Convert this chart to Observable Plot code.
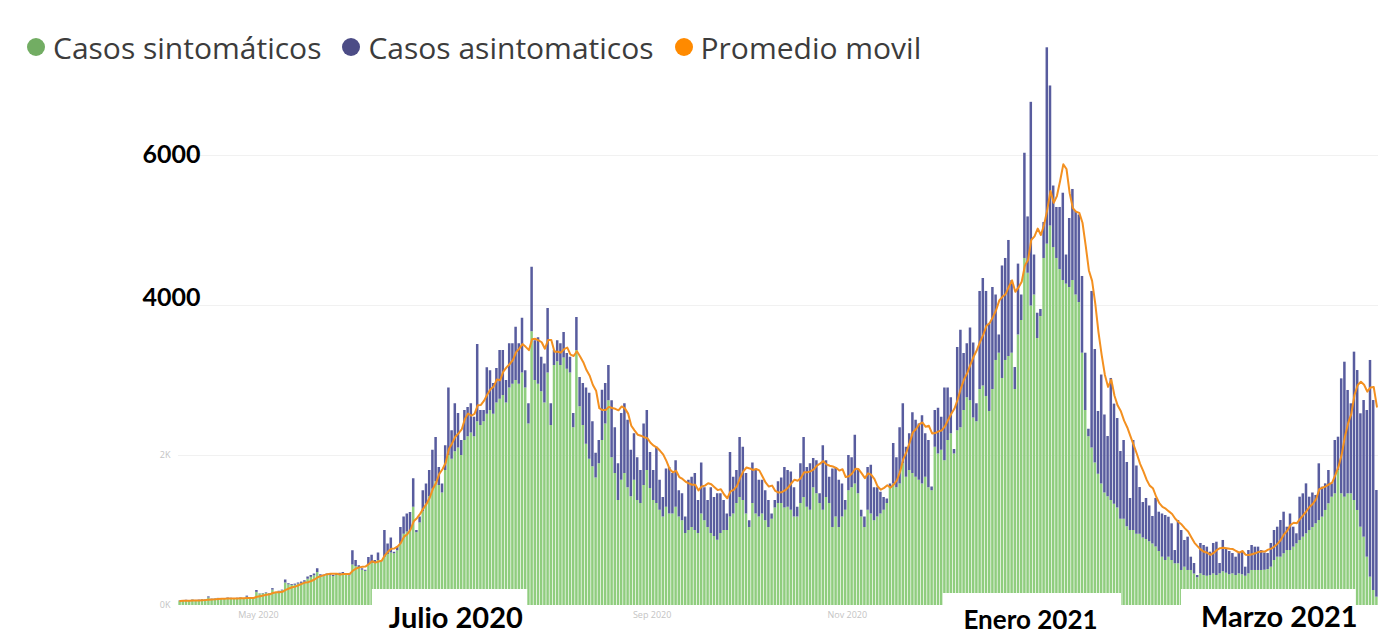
<!DOCTYPE html>
<html>
<head>
<meta charset="utf-8">
<script src="https://cdn.jsdelivr.net/npm/d3@7"></script>
<script src="https://cdn.jsdelivr.net/npm/@observablehq/plot@0.6"></script>
<style>
  html, body { margin: 0; padding: 0; background: #fff; }
  #wrap { position: relative; width: 1378px; height: 637px; overflow: hidden; }
  #legend { position: absolute; left: 27px; top: 27px; height: 40px; display: flex; align-items: center;
            font-family: "Open Sans", "Noto Sans", sans-serif; font-size: 30px; color: #3c3c3c; z-index: 2; white-space: nowrap; }
  #legend .item { display: flex; align-items: center; margin-right: 21px; }
  #legend .dot { width: 18px; height: 18px; border-radius: 50%; margin-right: 8px; display: inline-block; }
  #chart { position: absolute; left: 0; top: 0; }
</style>
</head>
<body>
<div id="wrap"><div id="chart"></div><div id="legend"></div></div>
<script>
// ---- Data ----
const startDay = "2020-04-06";          // first daily bar
// height of each daily bar (sintomáticos + asintomáticos)
const totalDiario = [
  60,65,70,62,75,68,72,80,76,
  115,
  85,90,95,88,92,100,96,92,97,102,92,
  125,95,102,
  200,155,160,168,160,
  225,172,190,205,
  340,290,280,285,
  300,312,330,
  380,400,420,490,
  410,405,420,415,400,420,
  430,440,420,410,
  730,600,530,490,470,
  640,670,600,700,600,
  1000,820,900,710,780,
  1040,1180,1220,1240,
  1690,1000,1180,1530,1620,
  1800,2070,2240,1840,1620,
  2130,2900,2330,2690,2560,
  2200,2600,2640,2690,2510,
  3480,2600,2600,3170,3130,
  2960,3160,3400,3400,3000,
  3490,3490,3710,3490,3830,
  3130,2690,4510,3530,3570,
  3310,3220,3960,2690,3400,
  3530,3490,3640,3360,3310,
  2560,3840,3040,2960,2900,
  2830,2450,2030,2200,2870,
  2960,3200,2730,2370,1890,
  2560,2690,2470,2070,2290,
  1970,1800,2420,2600,2040,
  1800,2110,1670,1440,1820,
  1840,1760,1930,1530,1490,
  1180,1670,1710,1760,1400,
  1900,1570,1400,1570,1440,
  1490,1490,1400,1220,2040,
  1710,1800,2240,2110,1760,
  1130,1900,1800,1670,1670,
  1530,1400,1220,1400,1650,
  1700,1840,1800,1780,1570,
  1310,1890,2240,1840,1890,
  1960,1930,1490,2130,1930,
  1710,1820,1840,1670,1620,
  1400,2000,1970,2270,1800,
  1270,1180,1840,1870,1570,
  1570,1510,1440,1420,1620,
  2160,1970,2370,2690,2110,
  2290,2570,2470,2420,2530,
  2290,2200,1580,2600,2630,
  2510,2900,2900,2770,2080,
  3440,3670,3360,3490,3700,3500,2690,
  4187,4360,4187,3752,4240,
  4140,3607,4527,4627,4867,
  4333,3173,4552,4140,6030,
  5181,6709,4673,3897,3947,
  5107,7436,6927,5593,5307,
  5307,5497,4673,5160,5547,
  5253,5207,4387,3364,2350,
  4187,3413,2587,3073,2540,
  2253,3027,2685,2493,2053,
  2200,1907,1427,2200,1860,
  1573,1373,1427,1327,1187,1427,1244,
  1220,1200,1177,1089,733,
  1133,1000,867,911,644,
  560,400,827,800,778,
  711,827,844,560,867,
  760,720,
  693,644,693,711,511,
  733,800,778,778,733,
  700,
  693,827,1000,1044,1133,
  1244,1044,1220,1044,956,
  1444,1489,1622,1444,
  1500,
  1467,1889,1578,1622,1800,
  1622,2200,2244,3022,3244,
  2867,2689,3378,3133,2556,
  2733,2600,3267,2733,1533
];
// Casos sintomáticos (green part of each bar)
const sintomaticos = [
  55,60,64,58,70,62,66,74,70,
  100,
  80,85,90,83,87,94,90,87,92,96,87,
  110,90,95,
  175,150,155,160,155,
  205,165,180,195,
  300,275,268,270,
  285,295,310,
  350,375,395,440,
  390,385,400,395,385,400,
  410,420,405,395,
  540,520,500,470,455,
  540,560,560,600,580,
  640,680,700,690,730,
  820,950,980,1000,
  1310,970,1100,1250,1350,
  1450,1550,1650,1600,1500,
  1800,2000,1950,2050,2100,
  2000,2200,2250,2300,2250,
  2450,2400,2450,2550,2600,
  2550,2700,2750,2800,2700,
  2900,2950,3000,2950,3100,
  2900,2420,3650,3000,2950,
  2850,2700,3100,2400,3200,
  3250,3200,3300,3150,3100,
  2370,3400,2650,2400,2150,
  1950,1850,1700,1890,2200,
  2420,2730,1970,1760,1400,
  1670,1760,1570,1450,1670,
  1400,1360,1600,1800,1560,
  1400,1360,1270,1180,1310,
  1220,1220,1310,1180,1130,
  960,1000,1040,1000,960,
  1220,1130,1040,960,920,
  870,960,1000,1000,1180,
  1220,1360,1440,1400,1220,
  1040,1360,1220,1180,1220,
  1130,1040,1150,1300,1360,
  1360,1300,1310,1270,1180,
  1180,1360,1440,1310,1270,
  1570,1490,1360,1270,1440,
  1360,1040,1180,1040,1180,
  1270,1530,1570,1620,1490,
  1180,1040,1270,1220,1130,
  1180,1220,1270,1360,1570,
  1620,1570,1620,1890,1710,
  1800,1760,1710,1670,1620,
  1710,1570,1530,2110,2020,
  2070,1930,2200,2290,2020,
  2330,2370,2600,2770,2730,2500,2450,
  2880,2927,2787,2587,2880,
  3267,3364,3027,3267,3320,
  3364,2880,3607,3800,4627,
  4430,3993,4140,3560,3853,
  4627,4818,5060,4773,4627,
  4480,4333,4285,4240,4333,
  4140,4040,3364,2600,2250,
  2100,1900,1750,1620,1500,
  1450,1400,1350,1300,1150,
  1150,1050,1000,1000,950,
  950,900,880,850,820,780,720,
  644,600,644,600,556,
  556,467,511,467,467,
  420,370,422,400,390,
  400,422,400,422,450,
  430,410,
  422,400,422,410,390,
  422,467,467,467,467,
  470,
  480,511,600,644,644,
  689,733,733,778,822,
  867,911,956,1000,
  1040,
  1089,1133,1178,1267,1356,
  1444,1489,1800,1489,1444,
  1489,1489,1400,1267,1044,
  911,644,378,200,111
];
// Casos asintomáticos = rest of each bar
const asintomaticos = totalDiario.map((t, i) => Math.max(0, t - sintomaticos[i]));

const seriesNames = ["Casos sintomáticos", "Casos asintomaticos", "Promedio movil"];
const seriesColors = ["#8fcd7e", "#585c9e", "#f39020"];
const legendDotColors = ["#72ad63", "#4c4c86", "#ff8a00"];

// faint month labels of the original axis (the others are hidden under the white boxes)
const monthTickDates = ["2020-05-01", "2020-09-01", "2020-11-01"];
const monthTickLabels = ["May 2020", "Sep 2020", "Nov 2020"];
const yFaintTicks = [0, 2000];
const yFaintLabels = ["0K", "2K"];
const yGrid = [2000, 4000, 6000];

const annotLabels = ["Julio 2020", "Enero 2021", "Marzo 2021"];
const annotCenter = ["2020-07-01T16:00Z", "2020-12-28T06:00Z", "2021-03-16T00:00Z"];
const annotBoxStart = ["2020-06-05T14:00Z", "2020-12-01T00:00Z", "2021-02-13T10:00Z"];
const annotBoxEnd = ["2020-07-24T03:00Z", "2021-01-25T17:00Z", "2021-04-09T00:00Z"];

// ---- Build table ----
const DAY = 864e5;
const t0 = new Date(startDay + "T00:00Z").getTime();
const n = Math.min(totalDiario.length, sintomaticos.length);
const rows = d3.range(n).map(i => ({
  date: new Date(t0 + i * DAY),
  end: new Date(t0 + (i + 1) * DAY),
  mid: new Date(t0 + (i + 0.5) * DAY),
  sint: sintomaticos[i],
  asint: asintomaticos[i],
  total: sintomaticos[i] + asintomaticos[i]
}));
const annots = annotLabels.map((label, i) => ({
  label, center: new Date(annotCenter[i]), x1: new Date(annotBoxStart[i]), x2: new Date(annotBoxEnd[i])
}));
const ticks = monthTickDates.map((d, i) => ({ date: new Date(d + "T00:00Z"), label: monthTickLabels[i] }));

const boldFont = "Lato, 'Open Sans', sans-serif";
const annotSize = [29, 26, 29];
const annotY = [-173, -200, -160];

const chart = Plot.plot({
  width: 1378,
  height: 637,
  marginLeft: 178,
  marginRight: 0,
  marginTop: 5,
  marginBottom: 32,
  x: { type: "utc", domain: [new Date(t0), new Date(t0 + 375 * DAY)], axis: null },
  y: { domain: [0, 8000], axis: null },
  style: { background: "transparent", overflow: "visible" },
  marks: [
    Plot.ruleY(yGrid, { stroke: "#f1f1f1", strokeWidth: 1 }),
    Plot.text(yFaintTicks, { y: d => d, text: (d, i) => yFaintLabels[i], frameAnchor: "left", dx: -8, textAnchor: "end",
      fill: "#c4c4c4", fontSize: 9, fontFamily: "'Open Sans', sans-serif" }),
    Plot.text(ticks, { x: "date", text: "label", frameAnchor: "bottom", dy: 12, fill: "#c4c4c4", fontSize: 9,
      fontFamily: "'Open Sans', sans-serif" }),
    Plot.rectY(rows, { x1: "date", x2: "end", y1: 0, y2: "sint", fill: seriesColors[0], insetLeft: 0.35, insetRight: 0.35 }),
    Plot.rectY(rows, { x1: "date", x2: "end", y1: "sint", y2: "total", fill: seriesColors[1], insetLeft: 0.35, insetRight: 0.35 }),
    Plot.lineY(rows, Plot.windowY({ k: 7, anchor: "end", reduce: "mean" },
      { x: "mid", y: "total", stroke: seriesColors[2], strokeWidth: 2, curve: "linear" })),
    Plot.text([6000], { y: d => d, text: d => String(d), frameAnchor: "left", dx: -7, dy: -1, textAnchor: "middle",
      fontSize: 25, fontWeight: "bold", fontFamily: boldFont, fill: "#000" }),
    Plot.text([4000], { y: d => d, text: d => String(d), frameAnchor: "left", dx: -7, dy: -8, textAnchor: "middle",
      fontSize: 25, fontWeight: "bold", fontFamily: boldFont, fill: "#000" }),
    Plot.rect(annots, { x1: "x1", x2: "x2", y1: -600, y2: (d, i) => i === 1 ? 160 : 213, fill: "#fff" }),
    ...annots.map((a, i) => Plot.text([a], { x: "center", y: annotY[i], text: "label", fontSize: annotSize[i],
      fontWeight: "bold", fontFamily: boldFont, fill: "#000" }))
  ]
});
document.getElementById("chart").appendChild(chart);

// ---- Legend ----
const legend = document.getElementById("legend");
seriesNames.forEach((name, i) => {
  const item = document.createElement("span");
  item.className = "item";
  const dot = document.createElement("span");
  dot.className = "dot";
  dot.style.background = legendDotColors[i];
  item.appendChild(dot);
  item.appendChild(document.createTextNode(name));
  legend.appendChild(item);
});
</script>
</body>
</html>
